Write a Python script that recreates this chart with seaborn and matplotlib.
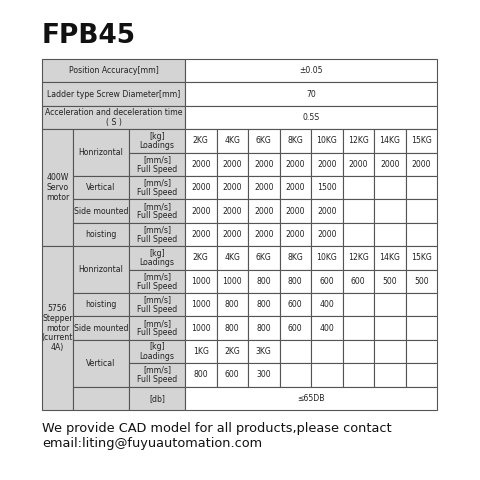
import seaborn as sns
import matplotlib.pyplot as plt
from matplotlib.patches import Rectangle

sns.set_theme(style="white")
plt.rcParams['font.family'] = ['DejaVu Sans']

title = "FPB45"
top_labels = ["Position Accuracy[mm]", "Ladder type Screw Diameter[mm]",
              "Acceleration and deceleration time\n( S )"]
top_values = ["±0.05", "70", "0.5S"]
loads_8 = ["2KG", "4KG", "6KG", "8KG", "10KG", "12KG", "14KG", "15KG"]
servo_h = ["2000"] * 8
servo_v = ["2000", "2000", "2000", "2000", "1500"]
servo_side = ["2000", "2000", "2000", "2000", "2000"]
servo_hoist = ["2000", "2000", "2000", "2000", "2000"]
step_h = ["1000", "1000", "800", "800", "600", "600", "500", "500"]
step_hoist = ["1000", "800", "800", "600", "400"]
step_side = ["1000", "800", "800", "600", "400"]
step_v_loads = ["1KG", "2KG", "3KG"]
step_v = ["800", "600", "300"]
noise = "≤65DB"
footer = "We provide CAD model for all products,please contact\nemail:liting@fuyuautomation.com"

GRAY = "#d4d4d4"
col_x = [42, 73, 129, 185] + [185 + 31.5 * (i + 1) for i in range(8)]
row_y = [59 + 23.4 * i for i in range(16)]
FS = 5.6

fig = plt.figure(figsize=(4.8, 4.8), dpi=100)
ax = fig.add_axes([0, 0, 1, 1])
ax.set_xlim(0, 480)
ax.set_ylim(480, 0)
ax.axis("off")


def cell(c0, c1, r0, r1, text="", gray=False):
    x0, x1 = col_x[c0], col_x[c1]
    y0, y1 = row_y[r0], row_y[r1]
    ax.add_patch(Rectangle((x0, y0), x1 - x0, y1 - y0, facecolor=GRAY if gray else "white",
                           edgecolor="#555555", linewidth=0.8))
    if text:
        ax.text((x0 + x1) / 2, (y0 + y1) / 2, text, ha="center", va="center",
                fontsize=FS, color="#222222", linespacing=1.1)


for r, (lab, val) in enumerate(zip(top_labels, top_values)):
    cell(0, 3, r, r + 1, lab, True)
    cell(3, 11, r, r + 1, val)


def data_row(r, vals):
    for i in range(8):
        cell(3 + i, 4 + i, r, r + 1, vals[i] if i < len(vals) else "")


LOAD = "[kg]\nLoadings"
SPEED = "[mm/s]\nFull Speed"

# servo block
cell(0, 1, 3, 8, "400W\nServo\nmotor", True)
cell(1, 2, 3, 5, "Honrizontal", True)
cell(1, 2, 5, 6, "Vertical", True)
cell(1, 2, 6, 7, "Side mounted", True)
cell(1, 2, 7, 8, "hoisting", True)
for r, lab, vals in [(3, LOAD, loads_8), (4, SPEED, servo_h), (5, SPEED, servo_v),
                     (6, SPEED, servo_side), (7, SPEED, servo_hoist)]:
    cell(2, 3, r, r + 1, lab, True)
    data_row(r, vals)

# stepper block
cell(0, 1, 8, 15, "5756\nStepper\nmotor\n(current\n4A)", True)
cell(1, 2, 8, 10, "Honrizontal", True)
cell(1, 2, 10, 11, "hoisting", True)
cell(1, 2, 11, 12, "Side mounted", True)
cell(1, 2, 12, 14, "Vertical", True)
cell(1, 2, 14, 15, "", True)
for r, lab, vals in [(8, LOAD, loads_8), (9, SPEED, step_h), (10, SPEED, step_hoist),
                     (11, SPEED, step_side), (12, LOAD, step_v_loads), (13, SPEED, step_v)]:
    cell(2, 3, r, r + 1, lab, True)
    data_row(r, vals)
cell(2, 3, 14, 15, "[db]", True)
cell(3, 11, 14, 15, noise)

ax.text(42, 36, title, fontsize=19, fontweight="bold", va="center", ha="left", color="#111111")
ax.text(42, 436, footer, fontsize=9.3, va="center", ha="left", color="#111111", linespacing=1.15)

fig.savefig("out.png", dpi=100)
